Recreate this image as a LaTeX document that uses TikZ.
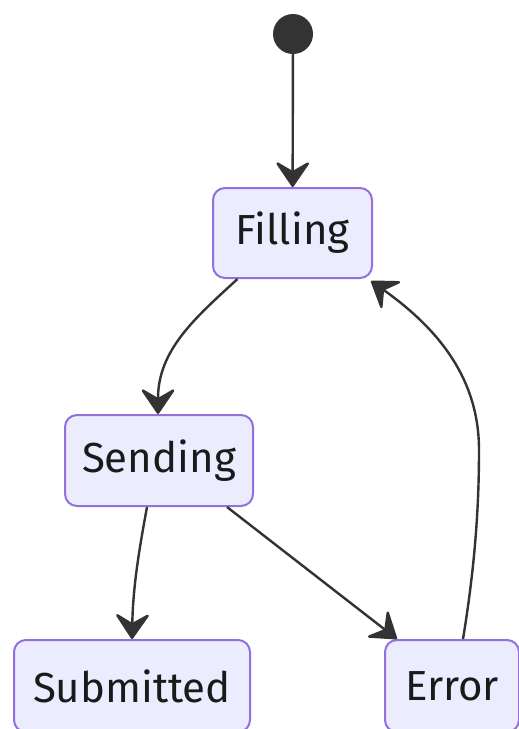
\documentclass[tikz,border=0pt]{standalone}
\usepackage{fontspec}
\setmainfont{Fira Sans}
\usetikzlibrary{arrows.meta,calc}
\definecolor{statefill}{HTML}{ECECFF}
\definecolor{stateline}{HTML}{9370DB}
\definecolor{edgecol}{HTML}{333333}
\definecolor{textcol}{HTML}{1A1A1A}
\tikzset{
  state/.style={draw=stateline, fill=statefill, line width=2pt, rounded corners=12pt,
    inner sep=0pt, text=textcol, font=\fontsize{42}{48}\selectfont},
  startdot/.style={circle, fill=edgecol, draw=none, minimum size=40pt, inner sep=0pt},
  trans/.style={draw=edgecol, line width=2.4pt,
    -{Stealth[length=28pt, width=38pt, inset=11pt, round]}}
}
\begin{document}
\begin{tikzpicture}[x=1pt, y=-1pt]
  \useasboundingbox (0,0) rectangle (519,729);
  \clip (0,0) rectangle (519,729);

  % states
  \node[startdot] (start) at (293,34) {};
  \node[state, minimum width=159pt, minimum height=90pt] (filling) at (292.5,233) {Filling};
  \node[state, minimum width=188pt, minimum height=91pt] (sending) at (159,460.5) {Sending};
  \node[state, minimum width=236pt, minimum height=92pt] (submitted) at (132,686) {Submitted};
  \node[state, minimum width=134pt, minimum height=92pt] (error) at (452,686) {Error};

  % transitions
  \draw[trans] (start) -- (filling);
  \draw[trans] ($(filling.south)+(-55,0)$)
    .. controls (195,318) and (158,350) .. ($(sending.north)+(-1,0)$);
  \draw[trans] ($(sending.south)+(-12,0)$)
    .. controls (140,545) and (133,585) .. (submitted.north);
  \draw[trans] ($(sending.south)+(68,0)$) -- ($(error.north west)+(13,0)$);
  \draw[trans] ($(error.north)+(11,0)$)
    .. controls (476,560) and (479,500) .. (479,450)
    .. controls (479,380) and (440,330) .. ($(filling.south east)+(-2,2)$);
\end{tikzpicture}
\end{document}
